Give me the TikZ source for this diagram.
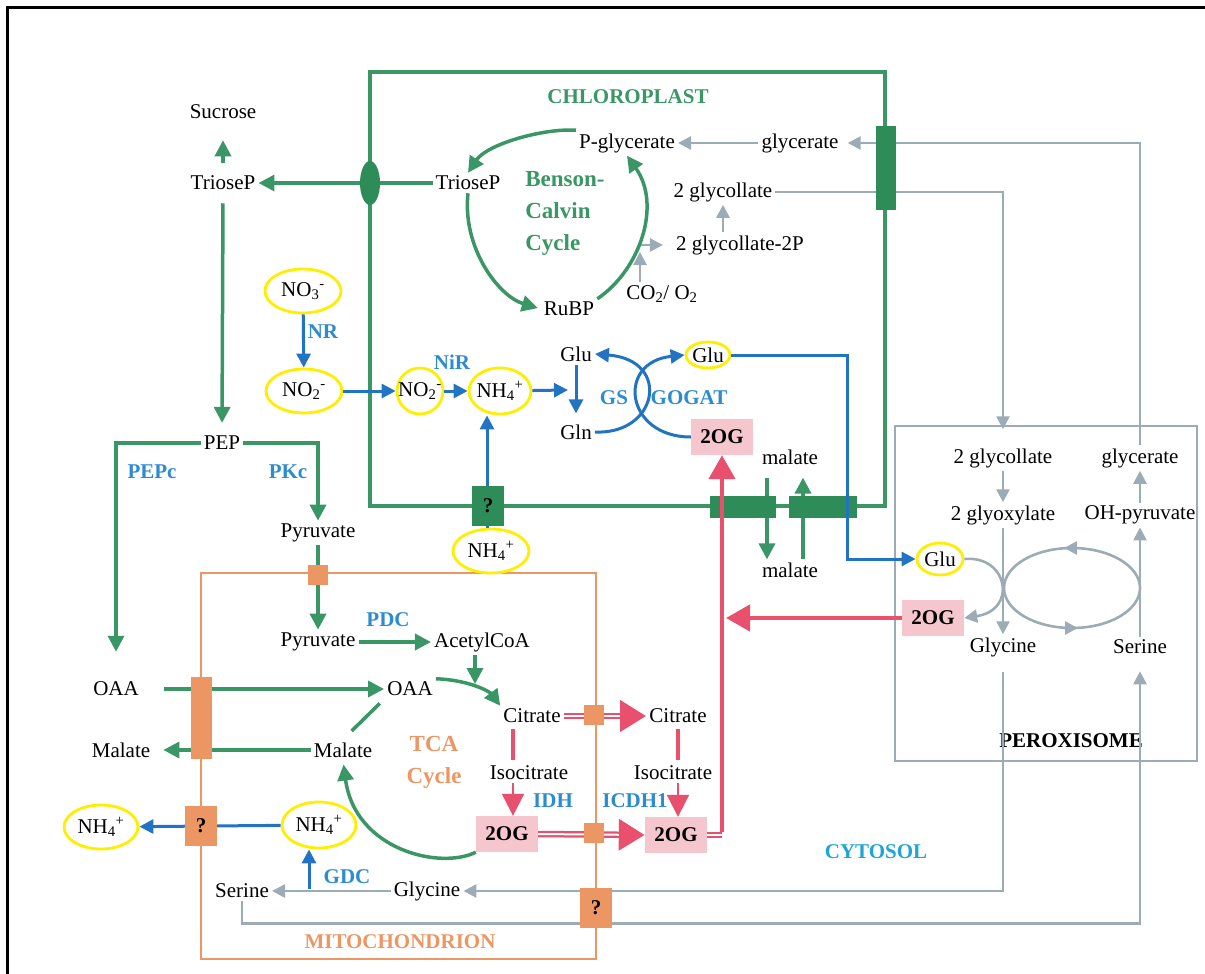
\documentclass[tikz,border=0pt]{standalone}
\usepackage{fontspec}
\setmainfont{Liberation Serif}
\usepackage{tikz}
\usetikzlibrary{arrows.meta,shapes.geometric}
\tikzset{>=Stealth}
\definecolor{cgreen}{RGB}{58,150,100}
\definecolor{cdkgreen}{RGB}{45,140,88}
\definecolor{cblue}{RGB}{35,115,195}
\definecolor{clabel}{RGB}{45,140,205}
\definecolor{cgray}{RGB}{155,172,182}
\definecolor{corange}{RGB}{236,150,100}
\definecolor{cred}{RGB}{232,80,110}
\definecolor{cpink}{RGB}{245,198,205}
\definecolor{cyel}{RGB}{255,238,0}
\definecolor{ccyan}{RGB}{30,165,215}
\newcommand{\chemion}[3]{#1\textsubscript{#2}\textsuperscript{#3}}
\tikzset{
    txt/.style={inner sep=3pt, font=\fontsize{21}{23}\selectfont},
    btxt/.style={inner sep=3pt, font=\fontsize{21}{23}\selectfont\bfseries},
    enz/.style={btxt, text=clabel},
    cyc/.style={inner sep=3pt, font=\fontsize{23}{32}\selectfont\bfseries},
    ring/.style={ellipse, draw=cyel, line width=2.8pt, inner sep=0pt},
    ogbox/.style={btxt, fill=cpink, minimum width=62pt, minimum height=36pt},
    qbox/.style={btxt, inner sep=0pt, minimum width=32pt, minimum height=40pt},
    tport/.style={inner sep=0pt},
    chlbox/.style={draw=cgreen, line width=3.5pt},
    mitbox/.style={draw=corange, line width=2.8pt},
    perbox/.style={draw=cgray, line width=2.6pt},
    gline/.style={draw=cgreen, line width=3.5pt},
    garrow/.style={gline, -{Triangle[length=16pt,width=16pt]}},
    grline/.style={draw=cgray, line width=2.6pt},
    grarrow/.style={grline, -{Triangle[length=13pt,width=13pt]}},
    barrow/.style={draw=cblue, line width=3pt, -{Triangle[length=14pt,width=14pt]}},
    rbar/.style={draw=cred, line width=4pt},
    rarrow/.style={draw=cred, line width=4.5pt, -{Triangle[length=24pt,width=26pt]}},
    rdbl/.style={draw=cred, line width=6.5pt, -{Triangle[length=26pt,width=30pt]}},
    rgap/.style={draw=white, line width=2pt},
    rtri/.style={draw=cred, line width=2pt, -{Triangle[length=22pt,width=22pt]}}
}
\begin{document}
\begin{tikzpicture}[x=1pt,y=-1pt]
    \useasboundingbox (0,0) rectangle (1205,974);
    \draw[line width=3pt] (7,974) -- (7,8) -- (1205,8);
    \draw[chlbox] (370,72) rectangle (885,506);
    \draw[mitbox] (201,573) rectangle (596,959);
    \draw[perbox] (895,426) rectangle (1197,761);

    \node[txt] at (223,112) (sucrose) {Sucrose};
    \node[txt] at (223,183) (trioseout) {TrioseP};
    \node[txt] at (468,183) (triosein) {TrioseP};
    \node[txt] at (627,143) (pglyc) {P-glycerate};
    \node[txt] at (800,143) (glyc) {glycerate};
    \node[txt] at (723,192) (glyco) {2 glycollate};
    \node[txt] at (740,245) (glycop) {2 glycollate-2P};
    \node[txt] at (662,294) (co) {CO\textsubscript{2}/ O\textsubscript{2}};
    \node[txt] at (569,309) (rubp) {RuBP};
    \node[btxt, text=cgreen] at (628,97) (chl) {CHLOROPLAST};
    \node[cyc, text=cgreen, align=left] at (565,213) (bcc) {Benson-\\Calvin\\Cycle};
    \node[ring, minimum width=76pt, minimum height=44pt, label={[txt]center:\chemion{NO}{3}{-}}] at (303,291) (nothree) {};
    \node[ring, minimum width=76pt, minimum height=44pt, label={[txt]center:\chemion{NO}{2}{-}}] at (304,391) (notwo) {};
    \node[ring, minimum width=46pt, minimum height=46pt, label={[txt]center:\chemion{NO}{2}{-}}] at (420,391) (notwoin) {};
    \node[ring, minimum width=62pt, minimum height=46pt, label={[txt]center:\chemion{NH}{4}{+}}] at (500,391) (nhfour) {};
    \node[enz] at (323,332) (nr) {NR};
    \node[enz] at (452,362) (nir) {NiR};
    \node[txt] at (576,354) (glu) {Glu};
    \node[txt] at (576,432) (gln) {Gln};
    \node[enz] at (614,398) (gs) {GS};
    \node[enz] at (689,398) (gogat) {GOGAT};
    \node[ring, minimum width=44pt, minimum height=26pt, label={[txt]center:Glu}] at (708,355) (gluc) {};
    \node[ogbox] at (722,437) (ogchl) {2OG};
    \node[txt] at (790,457) (malu) {malate};
    \node[txt] at (790,570) (mald) {malate};
    \node[ring, minimum width=76pt, minimum height=44pt, label={[txt]center:\chemion{NH}{4}{+}}] at (491,551) (nhfourb) {};

    \node[txt] at (222,443) (pep) {PEP};
    \node[enz] at (152,472) (pepc) {PEPc};
    \node[enz] at (288,472) (pkc) {PKc};
    \node[txt] at (318,533) (pyra) {Pyruvate};
    \node[txt] at (318,642) (pyrb) {Pyruvate};
    \node[enz] at (388,620) (pdc) {PDC};
    \node[txt] at (482,642) (acoa) {AcetylCoA};
    \node[txt] at (116,689) (oaaout) {OAA};
    \node[txt] at (410,689) (oaain) {OAA};
    \node[txt] at (532,716) (cita) {Citrate};
    \node[txt] at (678,716) (citb) {Citrate};
    \node[txt] at (121,750) (malout) {Malate};
    \node[txt] at (343,750) (malin) {Malate};
    \node[cyc, text=corange, align=center] at (434,762) (tca) {TCA\\Cycle};
    \node[txt] at (529,773) (isoa) {Isocitrate};
    \node[txt] at (673,773) (isob) {Isocitrate};
    \node[enz] at (553,801) (idh) {IDH};
    \node[enz] at (635,801) (icdh) {ICDH1};
    \node[ogbox] at (507,834) (ogmit) {2OG};
    \node[ogbox] at (676,835) (ogcyt) {2OG};
    \node[ring, minimum width=74pt, minimum height=44pt, label={[txt]center:\chemion{NH}{4}{+}}] at (101,827) (nhout) {};
    \node[ring, minimum width=74pt, minimum height=46pt, label={[txt]center:\chemion{NH}{4}{+}}] at (319,825) (nhmit) {};
    \node[enz] at (347,877) (gdc) {GDC};
    \node[txt] at (242,891) (sermit) {Serine};
    \node[txt] at (427,891) (glymit) {Glycine};
    \node[btxt, text=corange] at (400,942) (mit) {MITOCHONDRION};
    \node[btxt, text=ccyan] at (876,852) (cyt) {CYTOSOL};

    \node[txt] at (1003,458) (glycoper) {2 glycollate};
    \node[txt] at (1140,458) (glycper) {glycerate};
    \node[txt] at (1003,515) (glyox) {2 glyoxylate};
    \node[txt] at (1140,515) (ohpyr) {OH-pyruvate};
    \node[ring, minimum width=46pt, minimum height=32pt, label={[txt]center:Glu}] at (940,559) (gluper) {};
    \node[ogbox] at (933,618) (ogper) {2OG};
    \node[txt] at (1003,647) (glyper) {Glycine};
    \node[txt] at (1140,647) (serper) {Serine};
    \node[btxt] at (1071,741) (per) {PEROXISOME};

    \coordinate (calvout) at (641,245);
    \coordinate (calvin) at (640,252);
    \coordinate (gsin) at (568,390);
    \coordinate (nhup) at (487,528);
    \coordinate (glubend) at (847,355);
    \coordinate (citin) at (475,684);
    \coordinate (malxa) at (767,480);
    \coordinate (malxb) at (803,480);
    \coordinate (gdcfoot) at (309,889);
    \coordinate (redcorner) at (722,835);
    \coordinate (redjoin) at (726,618);
    \coordinate (pcyc) at (1072,588);

    \draw[garrow] (pglyc.north west) .. controls (544,128) and (487,144) .. (triosein.north);
    \draw[garrow, shorten >=3pt] (triosein.south) .. controls (462,247) and (498,296) .. (rubp.west);
    \draw[garrow] (rubp.north east) .. controls (640,270) and (662,205) .. (pglyc.south);
    \draw[garrow] (triosein.west) -- (trioseout.east);
    \draw[garrow, shorten <=10pt, shorten >=18pt] (trioseout.north) -- (sucrose.south);
    \draw[garrow, shorten <=10pt, shorten >=10pt] (trioseout.south) -- (pep.north);
    \draw[garrow, shorten >=27pt] (pep.west) -| (oaaout.north);
    \draw[garrow] (pep.east) -| (pyra.north);
    \draw[garrow] (pyra.south) -- (pyrb.north);
    \draw[garrow] (pyrb.east) -- (acoa.west);
    \draw[garrow] (acoa.south -| citin) -- (citin);
    \draw[garrow] (oaain.north east) .. controls (470,680) and (490,692) .. (cita.north west);
    \draw[garrow, shorten <=22pt] (oaaout.east) -- (oaain.west);
    \draw[garrow, shorten >=10pt] (malin.west) -- (malout.east);
    \draw[gline, shorten <=12pt, shorten >=6pt] (malin.north) -- (oaain.south west);
    \draw[garrow, shorten >=4pt] (ogmit.south west) .. controls (440,870) and (355,850) .. (malin.south);
    \draw[garrow, shorten <=10pt] (malu.south -| malxa) -- (mald.north -| malxa);
    \draw[garrow, shorten >=10pt] (mald.north -| malxb) -- (malu.south -| malxb);

    \draw[grarrow] (glyc.west) -- (pglyc.east);
    \draw[grarrow, shorten >=6pt] (glycper.north) |- (glyc.east);
    \draw[grarrow, shorten >=16pt] (glyco.east) -| (glycoper.north);
    \draw[grarrow] (glycop.north -| glyco.south) -- (glyco.south);
    \draw[grarrow, shorten >=10pt] (calvout) -- (glycop.west);
    \draw[grarrow] (co.north -| calvin) -- (calvin);
    \draw[grarrow] (glycoper.south) -- (glyox.north);
    \draw[grarrow] (ohpyr.north) -- (glycper.south);
    \draw[grarrow] (glyox.south) -- (glyper.north);
    \draw[grarrow] (serper.north) -- (ohpyr.south);
    \draw[grline] (pcyc) ellipse [x radius=68, y radius=40];
    \draw[grarrow] ([shift={(8,-40)}]pcyc) -- ([shift={(-8,-40)}]pcyc);
    \draw[grarrow] ([shift={(-10,40)}]pcyc) -- ([shift={(6,40)}]pcyc);
    \draw[grarrow] (gluper.east) .. controls (1008,555) and (1018,610) .. (ogper.east);
    \draw[grarrow, shorten <=12pt] (glyper.south) |- (glymit.east);
    \draw[grarrow, shorten >=14pt] (sermit.south) -- ++(0,22) -| (serper.south);
    \draw[grarrow] (glymit.west) -- (sermit.east);

    \draw[barrow] (nothree) -- (notwo);
    \draw[barrow] (notwo) -- (notwoin);
    \draw[barrow] (notwoin) -- (nhfour);
    \draw[barrow] (nhfour) -- (gsin);
    \draw[barrow, shorten >=8pt] (glu) -- (gln);
    \draw[barrow] (gln.east) .. controls (658,435) and (672,360) .. (glu.east);
    \draw[barrow] (ogchl.west) .. controls (625,437) and (616,362) .. (gluc.west);
    \draw[barrow] (nhup) -- (nhup |- nhfour.south);
    \draw[barrow] (nhmit) -- (nhout);
    \draw[barrow] (gdcfoot) -- (gdcfoot |- nhmit.south);

    \draw[rbar, shorten <=3pt, shorten >=3pt] ([xshift=-19pt]cita.south) -- ([xshift=-19pt]cita.south |- isoa.north);
    \draw[rbar, shorten <=3pt, shorten >=3pt] (citb.south) -- (citb.south |- isob.north);
    \draw[rtri] ([xshift=-16pt]isoa.south) -- ([xshift=-16pt]isoa.south |- ogmit.north);
    \draw[rtri] (isob.south -| citb) -- (ogcyt.north -| citb);
    \draw[rdbl] (cita.east) -- (citb.west);
    \draw[rgap, shorten >=26pt] (cita.east) -- (citb.west);
    \draw[rdbl] (ogmit.east) -- (ogcyt.west);
    \draw[rgap, shorten >=26pt] (ogmit.east) -- (ogcyt.west);
    \draw[draw=cred, line width=6.5pt] (ogcyt.east) -- (redcorner);
    \draw[rgap] (ogcyt.east) -- (redcorner);
    \draw[rarrow] (ogper.west) -- (redjoin);

    \node[tport, ellipse, fill=cdkgreen, minimum width=20pt, minimum height=44pt] at (370,183) (tptr) {};
    \node[tport, fill=cdkgreen, minimum width=20pt, minimum height=84pt] at (886,168) (gltr) {};
    \node[tport, fill=cdkgreen, minimum width=66pt, minimum height=22pt] at (743,507) (maltra) {};
    \node[tport, fill=cdkgreen, minimum width=68pt, minimum height=22pt] at (823,507) (maltrb) {};
    \node[qbox, fill=cdkgreen] at (488,506) (qchl) {?};
    \node[tport, fill=corange, minimum size=20pt] at (318,575) (pyrtr) {};
    \node[tport, fill=corange, minimum width=21pt, minimum height=82pt] at (201,718) (oaatr) {};
    \node[qbox, fill=corange] at (201,826) (qnh) {?};
    \node[tport, fill=corange, minimum size=20pt] at (594,715) (cittr) {};
    \node[tport, fill=corange, minimum size=20pt] at (594,833) (ogtr) {};
    \node[qbox, fill=corange] at (596,908) (qgly) {?};

    \draw[rarrow] ([yshift=3.25pt]redcorner) -- (ogchl.south);
    \draw[barrow] (gluc.east) -- (glubend) |- (gluper.west);
\end{tikzpicture}
\end{document}
